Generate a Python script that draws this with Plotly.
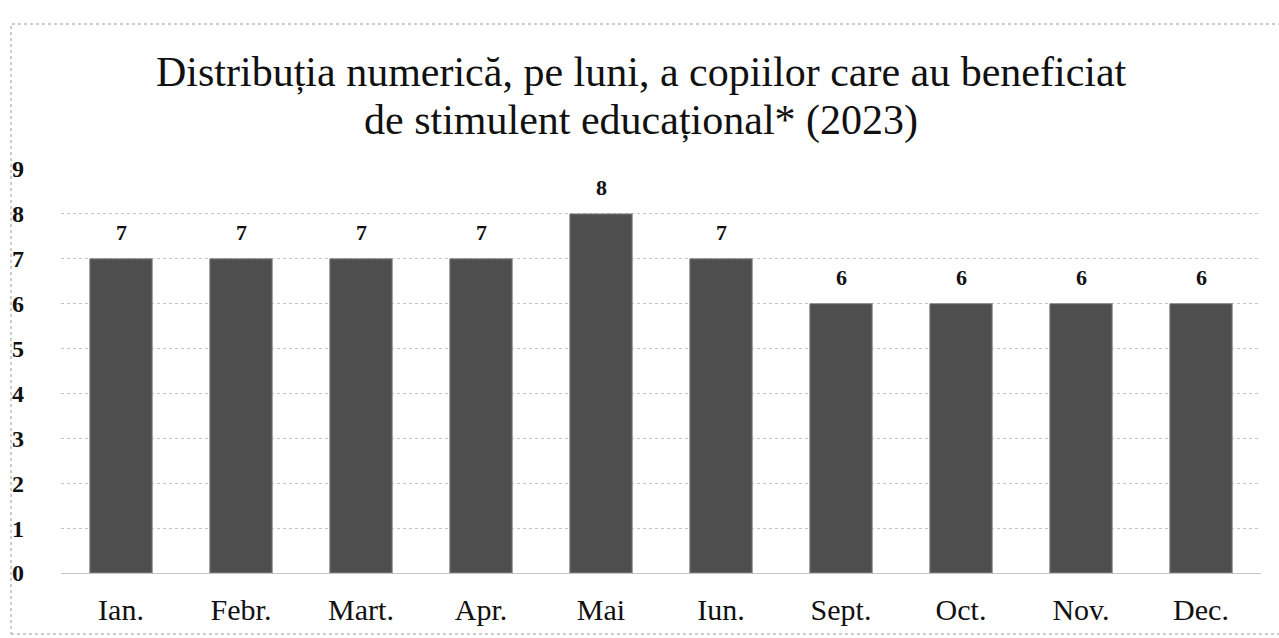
import plotly.graph_objects as go

months = ["Ian.", "Febr.", "Mart.", "Apr.", "Mai", "Iun.", "Sept.", "Oct.", "Nov.", "Dec."]
values = [7, 7, 7, 7, 8, 7, 6, 6, 6, 6]
y_ticks = [0, 1, 2, 3, 4, 5, 6, 7, 8, 9]
title_lines = ["Distribuția numerică, pe luni, a copiilor care au beneficiat",
               "de stimulent educațional* (2023)"]

serif = "Liberation Serif, Times New Roman, serif"

# plot area in pixels
L, R, T, B = 61, 1261, 169, 573
W, H = 1279, 638

def py(p):
    return (B - p) / (B - T)

def px(p):
    return (p - L) / (R - L)

fig = go.Figure()
fig.add_trace(go.Bar(
    x=months, y=values,
    marker=dict(color="#4e4e4e", line=dict(color="#8a8a8a", width=1)),
    width=0.52,
    hoverinfo="x+y",
))

for m, v in zip(months, values):
    fig.add_annotation(x=m, y=v, text=f"<b>{v}</b>", showarrow=False,
                       yanchor="bottom", yshift=12,
                       font=dict(family=serif, size=22, color="#111"))

for line, yc in zip(title_lines, [72, 121]):
    fig.add_annotation(x=px(641), xref="paper", xanchor="center",
                       y=py(yc), yref="paper", yanchor="middle",
                       text=line, showarrow=False,
                       font=dict(family=serif, size=42, color="#111"))

fig.update_layout(
    width=W, height=H,
    paper_bgcolor="white", plot_bgcolor="white",
    margin=dict(l=L, r=W - R, t=T, b=H - B),
    showlegend=False,
    xaxis=dict(tickfont=dict(family=serif, size=30, color="#111"),
               showgrid=False, showline=False, ticks="", ticklabelstandoff=16,
               automargin=False),
    yaxis=dict(range=[0, 9], tickvals=y_ticks, ticktext=[f"<b>{t}</b>" for t in y_ticks],
               tickfont=dict(family=serif, size=24, color="#111"),
               showgrid=True, gridcolor="#c4c4c4", griddash="dot", gridwidth=1,
               zeroline=True, zerolinecolor="#c4c4c4", zerolinewidth=1,
               showline=False, ticks="", ticklabelstandoff=36, automargin=False),
    shapes=[dict(type="rect", xref="paper", yref="paper",
                 x0=px(11), x1=px(1400), y0=py(634), y1=py(24),
                 line=dict(color="#9a9a9a", width=1, dash="dot"), layer="below")],
)

fig.write_html("out.html", config={"displayModeBar": False},
               post_script="document.body.style.margin='0';document.body.style.overflow='hidden';")
